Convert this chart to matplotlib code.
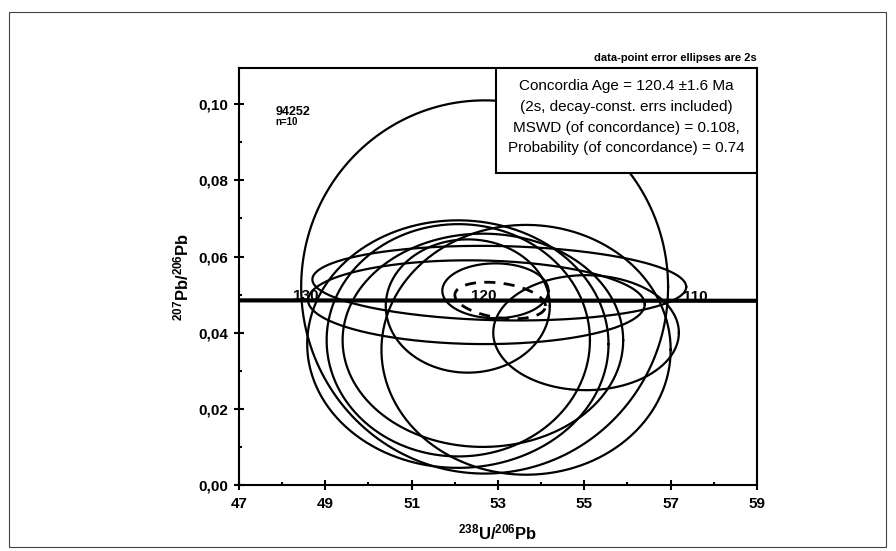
import numpy as np
import matplotlib
matplotlib.use("Agg")
from matplotlib import pyplot as plt
from matplotlib.patches import Rectangle
from matplotlib.ticker import MultipleLocator, FuncFormatter

plt.rcParams['font.family'] = ['Liberation Sans', 'DejaVu Sans']
plt.rcParams['mathtext.fontset'] = 'custom'
plt.rcParams['mathtext.rm'] = 'Liberation Sans'
plt.rcParams['mathtext.bf'] = 'Liberation Sans:bold'

# data-point error ellipses (2s): centre x, centre y, half-width x, half-height y, correlation
ell_x = [52.69, 53.65, 52.07, 52.08, 52.65, 53.03, 52.50, 52.30, 55.04, 52.94]
ell_y = [0.0520, 0.0355, 0.0370, 0.0380, 0.0380, 0.0530, 0.0480, 0.0470, 0.0400, 0.0510]
ell_sx = [4.25, 3.35, 3.49, 3.05, 3.25, 4.33, 3.90, 1.90, 2.15, 1.23]
ell_sy = [0.0490, 0.0328, 0.0325, 0.0305, 0.0280, 0.0098, 0.0110, 0.0175, 0.0151, 0.0072]
ell_rho = [0.0, 0.0, 0.0, 0.0, 0.0, -0.10, -0.05, 0.0, 0.0, 0.0]

# concordia age ellipse (dashed)
age_ell = (53.05, 0.04845, 1.05, 0.0048, -0.30)

# concordia curve (Tera-Wasserburg) over the plotted range
conc_x = [47.0, 49.09, 53.22, 58.11, 59.0]
conc_y = [0.04848, 0.04846, 0.04842, 0.04838, 0.04837]
age_labels = ["130", "120", "110"]
age_x = [49.09, 53.22, 58.11]
age_y = [0.04846, 0.04842, 0.04838]

x_ticks = [47, 49, 51, 53, 55, 57, 59]

result_lines = ["Concordia Age = 120.4 \u00b11.6 Ma",
                "(2s, decay-const. errs included)",
                "MSWD (of concordance) = 0.108,",
                "Probability (of concordance) = 0.74"]


def ellipse_xy(cx, cy, sx, sy, rho, n=400):
    t = np.linspace(0, 2 * np.pi, n)
    x = cx + sx * np.cos(t)
    y = cy + sy * (rho * np.cos(t) + np.sqrt(1 - rho ** 2) * np.sin(t))
    return x, y


fig = plt.figure(figsize=(8.96, 5.51), dpi=100)
ax = fig.add_axes([239 / 896, 1 - 485 / 551, (757 - 239) / 896, (485 - 68) / 551])

for cx, cy, sx, sy, r in zip(ell_x, ell_y, ell_sx, ell_sy, ell_rho):
    x, y = ellipse_xy(cx, cy, sx, sy, r)
    ax.plot(x, y, color="black", lw=1.6)

ax.plot(conc_x, conc_y, color="black", lw=3)

x, y = ellipse_xy(*age_ell)
ax.plot(x, y, color="black", lw=2, linestyle=(0, (4, 3)))

for lab, xx, yy in zip(age_labels, age_x, age_y):
    ax.annotate(lab, (xx, yy), xytext=(-8, 3), textcoords="offset points",
                ha="right", va="center", fontsize=11, fontweight="bold")

ax.set_xlim(47, 59)
ax.set_ylim(0, 0.1095)
ax.set_xticks(x_ticks)
ax.xaxis.set_minor_locator(MultipleLocator(1))
ax.yaxis.set_major_locator(MultipleLocator(0.02))
ax.yaxis.set_minor_locator(MultipleLocator(0.01))
ax.yaxis.set_major_formatter(FuncFormatter(lambda v, p: f"{v:.2f}".replace(".", ",")))
ax.tick_params(which="major", direction="inout", length=7, width=1.5, labelsize=11, pad=4)
ax.tick_params(which="minor", direction="in", length=2.5, width=1.5)
ax.tick_params(axis="x", which="major", pad=5)
for lab in ax.get_xticklabels() + ax.get_yticklabels():
    lab.set_fontweight("bold")
for sp in ax.spines.values():
    sp.set_linewidth(1.5)

ax.set_xlabel(r"$\mathbf{^{238}U/^{206}Pb}$", fontsize=12)
ax.set_ylabel(r"$\mathbf{^{207}Pb/^{206}Pb}$", fontsize=12)
ax.xaxis.set_label_coords(0.5, -0.09)
ax.yaxis.set_label_coords(-0.091, 0.5)

# result box in upper right corner
ax.add_patch(Rectangle((0.496, 0.748), 0.504, 0.252, transform=ax.transAxes,
                       facecolor="white", edgecolor="black", lw=1.5, zorder=5))
ax.text(0.748, 0.882, "\n".join(result_lines), transform=ax.transAxes,
        ha="center", va="center", fontsize=11, linespacing=1.6, zorder=6)

ax.text(1.0, 1.013, "data-point error ellipses are 2s", transform=ax.transAxes,
        ha="right", va="bottom", fontsize=8, fontweight="bold")
ax.text(47.85, 0.098, "94252", ha="left", va="center", fontsize=9, fontweight="bold")
ax.text(47.85, 0.0952, "n=10", ha="left", va="center", fontsize=7, fontweight="bold")

fig.patches.append(Rectangle((9 / 896, 1 - 547 / 551), 877 / 896, 535 / 551,
                             transform=fig.transFigure, fill=False,
                             edgecolor="#444444", lw=0.8))

fig.savefig("out.png", dpi=100)
